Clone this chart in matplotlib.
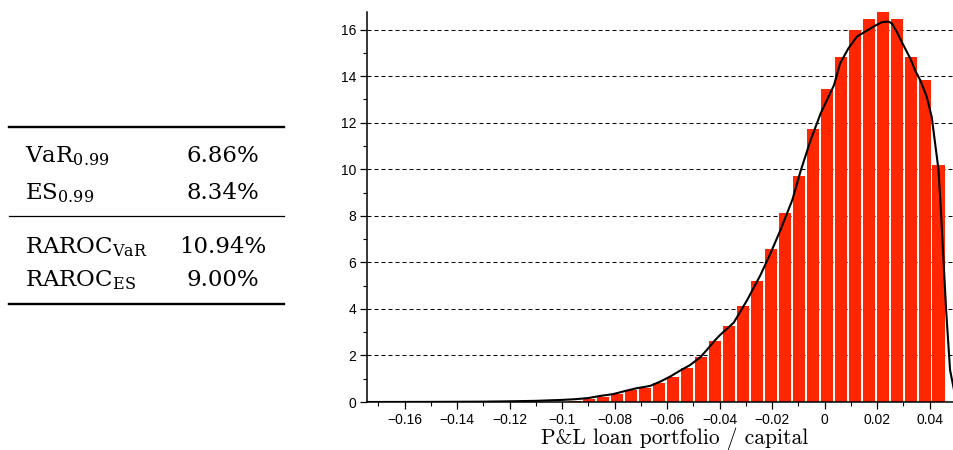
import numpy as np
import matplotlib
matplotlib.use("Agg")
import matplotlib.pyplot as plt
from matplotlib.lines import Line2D
from matplotlib.ticker import MultipleLocator, FuncFormatter

# histogramme (densite) du P&L du portefeuille de prets / capital
bin_width = 0.00533
last_bin = 0.0434
density = [0.01, 0.02, 0.05, 0.13, 0.22, 0.33, 0.50, 0.61, 0.80, 1.09,
           1.45, 1.95, 2.62, 3.25, 4.14, 5.20, 6.58, 8.11, 9.73, 11.73,
           13.46, 14.84, 16.00, 16.47, 16.77, 16.47, 14.84, 13.85, 10.20]

# densite lissee (noyau)
kde_x = [-0.175, -0.15, -0.13, -0.12, -0.11, -0.10, -0.095, -0.09, -0.0855,
         -0.0805, -0.0754, -0.0716, -0.0665, -0.0627, -0.0589, -0.0550,
         -0.0512, -0.0474, -0.0449, -0.0417, -0.0398, -0.0346, -0.0295,
         -0.0244, -0.0206, -0.0168, -0.0123, -0.0092, -0.0053, -0.0015,
         0.0036, 0.0059, 0.0091, 0.0123, 0.0154, 0.0186, 0.0218, 0.0243,
         0.0256, 0.0275, 0.0300, 0.0326, 0.0347, 0.0364, 0.0389, 0.0408,
         0.0421, 0.0434, 0.0443, 0.0453, 0.0463, 0.0478, 0.0493, 0.0510]
kde_y = [0.0, 0.005, 0.015, 0.03, 0.05, 0.09, 0.12, 0.17, 0.26,
         0.34, 0.49, 0.59, 0.69, 0.87, 1.09, 1.35,
         1.59, 1.92, 2.23, 2.66, 2.88, 3.41, 4.38,
         5.46, 6.39, 7.39, 8.68, 9.90, 11.26, 12.40,
         13.62, 14.55, 15.20, 15.70, 15.91, 16.13, 16.32, 16.35,
         16.27, 15.91, 15.34, 14.77, 14.20, 13.84, 13.12, 12.26,
         11.12, 9.97, 8.25, 6.10, 3.95, 1.37, 0.52, 0.10]

# tableau des mesures de risque
risk_labels = [r'$\mathrm{VaR}_{0.99}$', r'$\mathrm{ES}_{0.99}$',
               r'$\mathrm{RAROC}_{\mathrm{VaR}}$', r'$\mathrm{RAROC}_{\mathrm{ES}}$']
risk_values = ['6.86%', '8.34%', '10.94%', '9.00%']

W, H = 954, 450
fig = plt.figure(figsize=(W / 100, H / 100), dpi=100)

def fx(px):
    return px / W

def fy(py):
    return 1 - py / H

# --- tableau a gauche ---
rows_y = [162, 199, 253, 286]
for lab, val, yy in zip(risk_labels, risk_values, rows_y):
    fig.text(fx(25), fy(yy), lab, fontsize=16.5, family='DejaVu Serif',
             math_fontfamily='dejavuserif', va='baseline', ha='left')
    fig.text(fx(223), fy(yy), val, fontsize=16.5, family='DejaVu Serif',
             va='baseline', ha='center')

for yy, lw in [(127, 1.7), (216, 0.9), (304, 1.7)]:
    fig.add_artist(Line2D([fx(9), fx(284)], [fy(yy), fy(yy)], lw=lw, color='black'))

# --- histogramme a droite ---
ax = fig.add_axes([fx(367.3), fy(402), fx(954 - 367.3), (402 - 11.5) / H])

centers = last_bin - bin_width * np.arange(len(density))[::-1]
ax.bar(centers, density, width=bin_width * 0.86, color='#ff2600', linewidth=0)
ax.plot(kde_x, kde_y, color='black', lw=1.5)

ax.set_xlim(-0.1742, 0.0493)
ax.set_ylim(0, 16.78)

ax.xaxis.set_major_locator(MultipleLocator(0.02))
ax.xaxis.set_minor_locator(MultipleLocator(0.01))
ax.yaxis.set_major_locator(MultipleLocator(2))
ax.yaxis.set_minor_locator(MultipleLocator(1))
ax.xaxis.set_major_formatter(FuncFormatter(lambda v, p: ('%g' % round(v, 4)).replace('-', '\u2212')))
ax.yaxis.set_major_formatter(FuncFormatter(lambda v, p: '%d' % v))

ax.tick_params(which='major', direction='out', length=5, width=0.9, labelsize=10, pad=3)
ax.tick_params(which='minor', direction='out', length=3, width=0.8)
for lab in ax.get_xticklabels() + ax.get_yticklabels():
    lab.set_family('Liberation Sans')

ax.spines['top'].set_visible(False)
ax.spines['right'].set_visible(False)
ax.spines['left'].set_linewidth(1.1)
ax.spines['bottom'].set_linewidth(1.1)

ax.set_axisbelow(True)
ax.grid(axis='y', color='black', lw=0.75, linestyle=(0, (3.84, 2.88)))

ax.set_xlabel('P&L loan portfolio / capital', fontsize=15.5,
              family=['cmr10', 'DejaVu Serif'])
ax.xaxis.set_label_coords(0.5245, -0.066)

fig.savefig('out.png', dpi=100)
